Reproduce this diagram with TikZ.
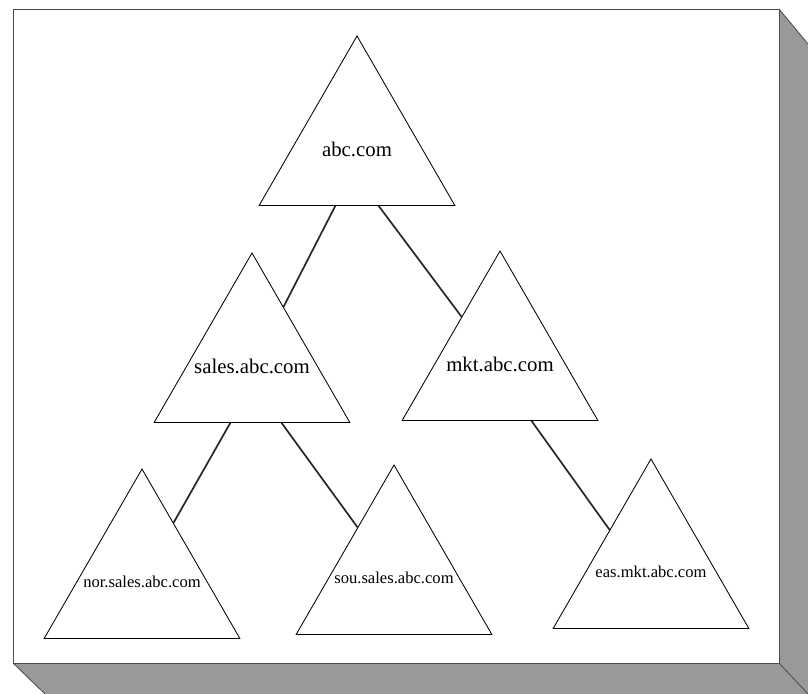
\documentclass[tikz,border=0pt]{standalone}
\usepackage{fontspec}
\setmainfont{Liberation Serif}
\usetikzlibrary{shapes.geometric,calc}

\begin{document}
\begin{tikzpicture}[
  tri/.style={draw, regular polygon, regular polygon sides=3, minimum size=5.65cm,
    inner sep=0pt, line width=0.6pt, fill=white},
  big/.style={font=\fontsize{14.8}{17}\selectfont},
  small/.style={font=\fontsize{11.8}{14}\selectfont},
  link/.style={line width=1.2pt, black!85}]
\useasboundingbox (0,0) rectangle (20.2,17.35);
% 立体の枠
\fill[gray!80] (19.475,17.125) -- (20.2,16.25) -- (20.2,0) -- (19.475,0.775) -- cycle;
\fill[gray!80] (0.325,0.775) -- (19.475,0.775) -- (20.2,0) -- (1.125,0) -- cycle;
\draw[black!70, line width=0.6pt] (19.475,17.125) -- (20.2,16.25)
  (19.475,0.775) -- (20.2,0) (0.325,0.775) -- (1.125,0);
\draw[black!70, line width=0.6pt, fill=white] (0.325,0.775) rectangle (19.475,17.125);
% ドメイン
\node[tri, label={[big]center:abc.com}] (abc) at (8.925,13.625) {};
\node[tri, label={[big]center:sales.abc.com}] (sales) at (6.30,8.20) {};
\node[tri, label={[big]center:mkt.abc.com}] (mkt) at (12.50,8.25) {};
\node[tri, label={[small]center:nor.sales.abc.com}] (nor) at (3.55,2.80) {};
\node[tri, label={[small]center:sou.sales.abc.com}] (sou) at (9.85,2.90) {};
\node[tri, label={[small]center:eas.mkt.abc.com}] (eas) at (16.275,3.05) {};
\draw[link] ($(abc.corner 2)!0.39!(abc.corner 3)$) -- ($(sales.corner 1)!0.32!(sales.corner 3)$);
\draw[link] ($(abc.corner 2)!0.61!(abc.corner 3)$) -- ($(mkt.corner 1)!0.39!(mkt.corner 2)$);
\draw[link] ($(sales.corner 2)!0.39!(sales.corner 3)$) -- ($(nor.corner 1)!0.32!(nor.corner 3)$);
\draw[link] ($(sales.corner 2)!0.65!(sales.corner 3)$) -- ($(sou.corner 1)!0.37!(sou.corner 2)$);
\draw[link] ($(mkt.corner 2)!0.66!(mkt.corner 3)$) -- ($(eas.corner 1)!0.42!(eas.corner 2)$);
\end{tikzpicture}
\end{document}
